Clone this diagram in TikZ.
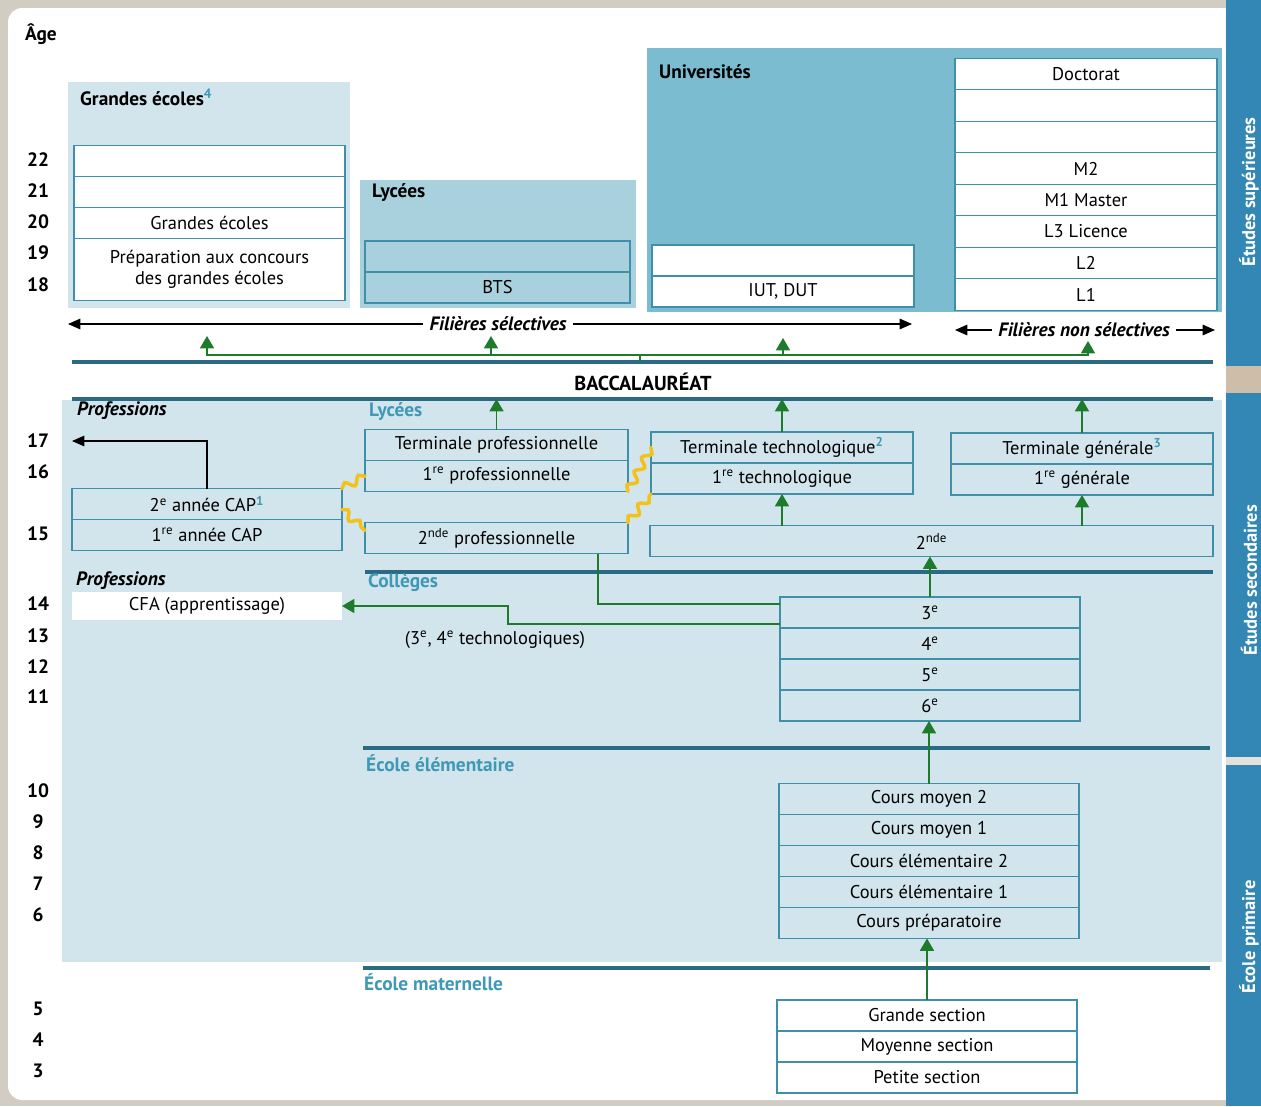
\documentclass[tikz,border=0pt]{standalone}
\usepackage{fontspec}
\setmainfont{PT Sans}
\usetikzlibrary{positioning,calc,arrows.meta,decorations.pathmorphing}
\definecolor{filet}{HTML}{3F8FA8}
\definecolor{pale}{HTML}{D2E5EC}
\definecolor{lycbleu}{HTML}{A9D1DD}
\definecolor{univbleu}{HTML}{7BBCD1}
\definecolor{bande}{HTML}{3287B4}
\definecolor{trait}{HTML}{2A6A82}
\definecolor{titre}{HTML}{3E98B6}
\definecolor{vert}{HTML}{1E7B2C}
\definecolor{jaune}{HTML}{F3C21A}
\definecolor{fond}{HTML}{D2CDC3}
\newcommand{\renvoi}[1]{\textsuperscript{\textcolor{titre}{\bfseries #1}}}
\tikzset{
  case/.style={draw=filet, line width=0.8pt, outer sep=0pt, inner sep=0pt,
    minimum height=0.62cm, font=\fontsize{10.5}{12}\selectfont},
  titrecadre/.style={anchor=west, font=\fontsize{11}{13}\selectfont\bfseries},
  titresec/.style={anchor=west, text=titre, font=\fontsize{11}{13}\selectfont\bfseries},
  metier/.style={anchor=west, font=\fontsize{11}{13}\selectfont\bfseries\itshape},
  age/.style={font=\fontsize{11}{13}\selectfont\bfseries},
  sep/.style={draw=trait, line width=2pt},
  fleche/.style={-{Triangle[width=6pt,length=7pt]}, line width=0.6pt},
  gtrait/.style={draw=vert, line width=0.7pt},
  gfleche/.style={gtrait, -{Triangle[width=8pt,length=7pt]}},
  vague/.style={draw=jaune, line width=2pt, line cap=round, decorate,
    decoration={snake, amplitude=2.2pt, segment length=9pt}},
  bandeau/.style={rotate=90, text=white, font=\fontsize{10.5}{12}\selectfont\bfseries}
}
\begin{document}
\begin{tikzpicture}[x=0.02cm, y=-0.02cm]
\useasboundingbox (0,0) rectangle (1261,1106);
% fond et bande de droite
\fill[fond] (0,0) rectangle (1261,1106);
\fill[white, rounded corners=8pt] (8,8) rectangle (1240,1100);
\fill[bande] (1226,0) rectangle (1261,1106);
\fill[fond!80!brown] (1226,366) rectangle (1261,393);
\fill[fond!60] (1226,757) rectangle (1261,765);
\node[bandeau] (sup) at (1249,192) {Études supérieures};
\node[bandeau] (secd) at (1249,580) {Études secondaires};
\node[bandeau] (prim) at (1249,937) {École primaire};

% cadres colorés
\fill[pale] (68,82) rectangle (350,308);
\fill[lycbleu] (360,180) rectangle (636,308);
\fill[univbleu] (647,48) rectangle (1222,312);
\fill[pale] (62,400) rectangle (1222,962);

% âges
\node[age] (agetitre) at (41,34) {Âge};
\foreach \a/\y in {22/160,21/191,20/222,19/253,18/285,17/441,16/472,15/534,
  14/604,13/636,12/667,11/697,10/791,9/822,8/853,7/884,6/915,5/1009,4/1040,3/1071}
  \node[age] (age\a) at (38,\y) {\a};

% études supérieures
\node[titrecadre] (tge) at (74,97) {Grandes écoles\renvoi{4}};
\node[case, fill=white, minimum width=5.42cm] (ge22) at (209.5,161) {};
\node[case, fill=white, minimum width=5.42cm, below=0pt of ge22] (ge21) {};
\node[case, fill=white, minimum width=5.42cm, below=0pt of ge21] (ge20) {Grandes écoles};
\node[case, fill=white, minimum width=5.42cm, minimum height=1.24cm, align=center,
  below=0pt of ge20] (prep) {Préparation aux concours\\des grandes écoles};

\node[titrecadre] (tlyc) at (366,193) {Lycées};
\node[case, minimum width=5.3cm] (bts2) at (497.5,256.5) {};
\node[case, minimum width=5.3cm, below=0pt of bts2] (bts) {BTS};

\node[titrecadre] (tuniv) at (653,72) {Universités};
\node[case, fill=white, minimum width=5.24cm] (iut2) at (783,260.5) {};
\node[case, fill=white, minimum width=5.24cm, below=0pt of iut2] (iut) {IUT, DUT};
\node[case, fill=white, minimum width=5.24cm, minimum height=0.63cm] (doct) at (1086,74) {Doctorat};
\node[case, fill=white, minimum width=5.24cm, minimum height=0.63cm, below=0pt of doct] (d2) {};
\node[case, fill=white, minimum width=5.24cm, minimum height=0.63cm, below=0pt of d2] (d1) {};
\node[case, fill=white, minimum width=5.24cm, minimum height=0.63cm, below=0pt of d1] (m2) {M2};
\node[case, fill=white, minimum width=5.24cm, minimum height=0.63cm, below=0pt of m2] (m1) {M1 Master};
\node[case, fill=white, minimum width=5.24cm, minimum height=0.63cm, below=0pt of m1] (l3) {L3 Licence};
\node[case, fill=white, minimum width=5.24cm, minimum height=0.63cm, below=0pt of l3] (l2) {L2};
\node[case, fill=white, minimum width=5.24cm, minimum height=0.63cm, below=0pt of l2] (l1) {L1};

% filières
\node[metier, anchor=center] (sel) at (498,324) {Filières sélectives};
\coordinate (selG) at (68,324);
\coordinate (selD) at (912,324);
\draw[fleche] (sel.west) -- (selG);
\draw[fleche] (sel.east) -- (selD);
\node[metier, anchor=center] (nonsel) at (1084,330) {Filières non sélectives};
\coordinate (nonselG) at (955,330);
\coordinate (nonselD) at (1215,330);
\draw[fleche] (nonsel.west) -- (nonselG);
\draw[fleche] (nonsel.east) -- (nonselD);

% baccalauréat
\draw[sep] (72,362) -- (1213,362);
\draw[sep] (72,399) -- (1213,399);
\node[font=\fontsize{11.5}{13}\selectfont\bfseries] (bac) at (643,382) {BACCALAURÉAT};
\coordinate (bachaut) at (640,362);
\coordinate (bacbas) at (640,399);
\coordinate (fourche) at (640,355);
\coordinate (versGE) at (207,336);
\coordinate (versBTS) at (491,336);
\coordinate (versIUT) at (783,338);
\coordinate (versL) at (1088,341);
\draw[gtrait] (bachaut) -- (fourche);
\foreach \c in {versGE,versBTS,versIUT,versL}
  \draw[gfleche] (fourche) -| (\c);

% lycées
\node[metier] (prof1) at (71,411) {Professions};
\node[titresec] (tlyc2) at (363,412) {Lycées};
\node[case, minimum width=5.26cm] (tpro) at (496.5,445) {Terminale professionnelle};
\node[case, minimum width=5.26cm, below=0pt of tpro] (pro1) {1\textsuperscript{re} professionnelle};
\node[case, minimum width=5.26cm] (pro2) at (496.5,538) {2\textsuperscript{nde} professionnelle};
\node[case, minimum width=5.4cm] (cap2) at (207,504) {2\textsuperscript{e} année CAP\renvoi{1}};
\node[case, minimum width=5.4cm, below=0pt of cap2] (cap1) {1\textsuperscript{re} année CAP};
\node[case, minimum width=5.24cm] (ttech) at (782,447.5) {Terminale technologique\renvoi{2}};
\node[case, minimum width=5.24cm, below=0pt of ttech] (tech1) {1\textsuperscript{re} technologique};
\node[case, minimum width=5.24cm] (tgen) at (1082,448.5) {Terminale générale\renvoi{3}};
\node[case, minimum width=5.24cm, below=0pt of tgen] (gen1) {1\textsuperscript{re} générale};
\node[case, minimum width=11.26cm] (seconde) at (931.5,541) {2\textsuperscript{nde}};

\coordinate (metier17) at (72,441);
\draw[fleche] (cap2.north) |- (metier17);
\draw[gfleche] (tpro.north) -- (tpro.north |- bacbas);
\draw[gfleche] (ttech.north) -- (ttech.north |- bacbas);
\draw[gfleche] (tgen.north) -- (tgen.north |- bacbas);
\draw[gfleche] (seconde.north -| tech1.south) -- (tech1.south);
\draw[gfleche] (seconde.north -| gen1.south) -- (gen1.south);

% passerelles
\draw[vague] (cap2.north east) -- (pro1.west);
\draw[vague] ($(cap2.south east)+(0,-10)$) -- ($(pro2.north west)+(0,8)$);
\draw[vague] (pro1.south east) -- (ttech.west);
\draw[vague] (pro2.north east) -- (tech1.south west);

% collèges
\draw[sep] (365,572) -- (1213,572);
\node[metier] (prof2) at (70,581) {Professions};
\node[titresec] (tcol) at (362,583) {Collèges};
\node[case, draw=none, fill=white, minimum width=5.4cm, minimum height=0.56cm] (cfa) at (207,606) {CFA (apprentissage)};
\node[case, minimum width=6cm] (c3) at (930,612.5) {3\textsuperscript{e}};
\node[case, minimum width=6cm, below=0pt of c3] (c4) {4\textsuperscript{e}};
\node[case, minimum width=6cm, below=0pt of c4] (c5) {5\textsuperscript{e}};
\node[case, minimum width=6cm, below=0pt of c5] (c6) {6\textsuperscript{e}};
\node[font=\fontsize{10.5}{12}\selectfont] (techno) at (495,640) {(3\textsuperscript{e}, 4\textsuperscript{e} technologiques)};
\draw[gfleche] (c3.north) -- (c3.north |- seconde.south);
\draw[gtrait] ($(pro2.south east)+(-30,0)$) |- ($(c3.north west)+(0,7)$);
\draw[gfleche] ($(c3.south west)+(0,-4)$) -| (508,606) -- (cfa.east);

% école élémentaire
\draw[sep] (363,748) -- (1210,748);
\node[titresec] (telem) at (360,763) {École élémentaire};
\node[case, minimum width=6cm] (cm2) at (929,799) {Cours moyen 2};
\node[case, minimum width=6cm, below=0pt of cm2] (cm1) {Cours moyen 1};
\node[case, minimum width=6cm, below=0pt of cm1] (ce2) {Cours élémentaire 2};
\node[case, minimum width=6cm, below=0pt of ce2] (ce1) {Cours élémentaire 1};
\node[case, minimum width=6cm, below=0pt of ce1] (cp) {Cours préparatoire};
\draw[gfleche] (cm2.north) -- (cm2.north |- c6.south);

% école maternelle
\draw[sep] (363,968) -- (1210,968);
\node[titresec] (tmat) at (358,982) {École maternelle};
\node[case, fill=white, minimum width=6cm] (gs) at (927,1015.5) {Grande section};
\node[case, fill=white, minimum width=6cm, below=0pt of gs] (ms) {Moyenne section};
\node[case, fill=white, minimum width=6cm, below=0pt of ms] (ps) {Petite section};
\draw[gfleche] (gs.north) -- (gs.north |- cp.south);
\end{tikzpicture}
\end{document}
